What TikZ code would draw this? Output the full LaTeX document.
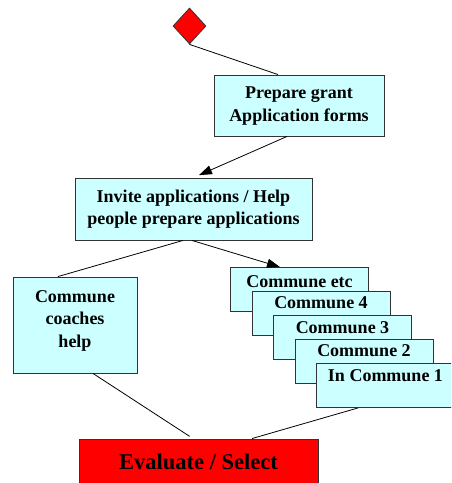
\documentclass[tikz,border=0pt]{standalone}
\usepackage{fontspec}
\setmainfont{Liberation Serif}
\usetikzlibrary{shapes.geometric,arrows.meta}
\definecolor{boxfill}{HTML}{CCFFFF}
\definecolor{alarm}{HTML}{FF0000}
\newcommand{\boxfont}{\fontsize{18}{22.5}\selectfont\bfseries}
\tikzset{
  task/.style={draw=black!80, line width=0.9pt, fill=boxfill, align=center,
    font=\boxfont, inner sep=0pt},
  commune/.style={task, minimum width=138pt, minimum height=44pt},
  cardtext/.style={anchor=base, font=\boxfont, inner sep=0pt},
  link/.style={draw=black, line width=0.8pt},
  flow/.style={link, -{Triangle[length=13pt,width=9pt]}}
}
\begin{document}
\begin{tikzpicture}[x=1pt,y=-1pt]
  \path[use as bounding box] (0,0) rectangle (451,483);
  \clip (0,0) rectangle (451,483);

  % start marker
  \node[diamond, draw=black!80, line width=0.8pt, fill=alarm,
        minimum width=33pt, minimum height=36pt, inner sep=0pt]
        (start) at (189.5,26) {};

  % main steps
  \node[task, minimum width=170pt, minimum height=61pt] (prep) at (299,105.5)
    {\raisebox{2pt}{\begin{tabular}{@{}c@{}}Prepare grant\\Application forms\end{tabular}}};
  \node[task, minimum width=237pt, minimum height=62pt] (invite) at (193.5,209)
    {\raisebox{2pt}{\begin{tabular}{@{}c@{}}Invite applications / Help\\people prepare applications\end{tabular}}};
  \node[task, minimum width=124pt, minimum height=96pt] (coach) at (75,325) {};
  \node[cardtext] (coach1) at (75,302) {Commune};
  \node[cardtext] (coach2) at (75,324.5) {coaches};
  \node[cardtext] (coach3) at (75,347) {help};

  % stacked commune cards, back to front
  \node[commune] (cetc) at (299.5,289.5) {};
  \node[cardtext] (cetct) at ([yshift=-20pt]cetc.north) {Commune etc};
  \node[commune] (c4) at (321,313.5) {};
  \node[cardtext] (c4t) at ([yshift=-17pt]c4.north) {Commune 4};
  \node[commune] (c3) at (342.5,337.5) {};
  \node[cardtext] (c3t) at ([yshift=-18pt]c3.north) {Commune 3};
  \node[commune] (c2) at (364,361.5) {};
  \node[cardtext] (c2t) at ([yshift=-17pt]c2.north) {Commune 2};
  \node[commune] (c1) at (385.5,385.5) {};
  \node[cardtext] (c1t) at ([yshift=-18pt]c1.north) {In Commune 1};

  % final step
  \node[task, fill=alarm, minimum width=239pt, minimum height=45pt,
        font=\fontsize{22.5}{27}\selectfont\bfseries] (eval) at (198.5,461.5)
    {Evaluate / Select};

  % connectors
  \draw[link] (start.south) -- ([xshift=-21pt]prep.north);
  \draw[flow, shorten >=6pt] ([xshift=-12pt]prep.south) -- (invite.north);
  \draw[link] ([xshift=-10.5pt]invite.south) -- ([xshift=-17pt]coach.north);
  \draw[flow] ([xshift=-1.5pt]invite.south) -- ([xshift=-19.5pt]cetc.north);
  \draw[link, shorten >=4pt] ([xshift=18pt]coach.south) -- ([xshift=-5.5pt]eval.north);
  \draw[link] ([xshift=-27.5pt]c1.south) -- ([xshift=53.5pt]eval.north);
\end{tikzpicture}
\end{document}
